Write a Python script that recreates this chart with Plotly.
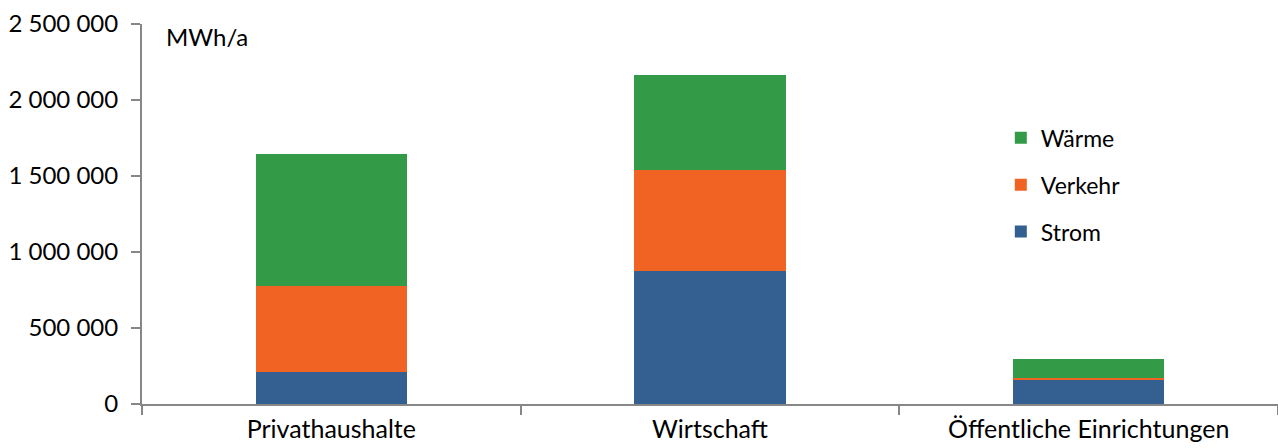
import plotly.graph_objects as go

categories = ["Privathaushalte", "Wirtschaft", "Öffentliche Einrichtungen"]
strom = [210000, 873000, 158000]
verkehr = [568000, 668000, 10000]
waerme = [867000, 623000, 128000]
y_ticks = [0, 500000, 1000000, 1500000, 2000000, 2500000]
y_tick_labels = ["0", "500 000", "1 000 000", "1 500 000", "2 000 000", "2 500 000"]

FONT = "Lato"
fig = go.Figure()
series = [("Strom", strom, "#336091", 3), ("Verkehr", verkehr, "#F16322", 2), ("Wärme", waerme, "#339A48", 1)]
for name, vals, col, rank in series:
    fig.add_trace(go.Bar(name=name, x=categories, y=vals, marker=dict(color=col, line=dict(width=0)),
                         legendgroup=name, legendrank=rank))

fig.update_layout(
    barmode="stack",
    bargap=0.6,
    width=1278, height=448,
    margin=dict(l=142, r=0, t=24, b=44),
    plot_bgcolor="white", paper_bgcolor="white",
    font=dict(family=FONT, size=24, color="#000000"),
    legend=dict(x=0.756, y=0.757, xanchor="left", yanchor="top",
                traceorder="grouped", tracegroupgap=14,
                font=dict(size=23), bgcolor="rgba(0,0,0,0)"),
    annotations=[dict(text="MWh/a", xref="paper", yref="paper", x=0.019, y=0.968,
                      xanchor="left", yanchor="middle", showarrow=False,
                      font=dict(family=FONT, size=24, color="#000000"))],
)
fig.update_yaxes(range=[0, 2500000], tickvals=y_ticks, ticktext=y_tick_labels, automargin=False,
                 showgrid=False, zeroline=False, showline=True, linecolor="#878787", linewidth=2,
                 ticks="outside", ticklen=9, tickwidth=2, tickcolor="#878787", ticklabelstandoff=8,
                 tickfont=dict(size=24))
fig.update_xaxes(tickson="boundaries", showgrid=False, showline=True, linecolor="#878787", linewidth=2,
                 automargin=False,
                 ticks="outside", ticklen=9, tickwidth=2, tickcolor="#878787", ticklabelstandoff=2,
                 tickfont=dict(size=25))
fig.write_html("out.html")
